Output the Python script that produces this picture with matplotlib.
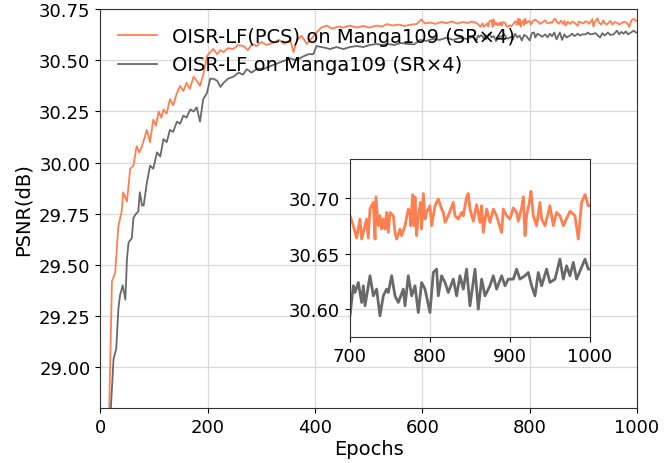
import numpy as np
import matplotlib
matplotlib.use("Agg")
import matplotlib.pyplot as plt

# PSNR curves (epochs 0-700 coarse, 700-1000 finer)
pcs_epochs = [10, 17, 22, 28, 34, 40, 43, 50, 56, 62, 68, 73, 78, 87, 93, 99, 104, 109, 114, 118,
              124, 130, 136, 143, 149, 155, 161, 167, 174, 180, 186, 192, 199, 205, 211, 218, 224, 230,
              238, 248, 257, 267, 275, 283, 292, 300, 310, 323, 333, 343, 354, 360, 367, 375, 385, 395,
              403, 412, 422, 432, 443, 453, 465, 478, 490, 502, 515, 525, 534, 545, 556, 567, 578, 590,
              598, 605, 615, 625, 635, 645, 655, 665, 675, 685, 692,
              700.0, 704.2, 708.3, 712.5, 714.6, 718.8, 720.8, 722.9, 725.0, 729.2, 731.3, 732.5, 735.4,
              737.5, 739.6, 741.7, 743.8, 745.8, 747.9, 750.0, 754.2, 756.3, 758.3, 762.5, 764.6, 768.8,
              772.9, 775.0, 775.8, 778.3, 780.0, 781.3, 783.3, 785.4, 788.3, 789.6, 791.7, 793.8, 795.8,
              800.0, 802.1, 806.3, 810.4, 814.6, 816.7, 818.8, 822.9, 829.2, 831.3, 835.4, 839.6, 841.7,
              845.8, 847.9, 850.0, 854.2, 858.3, 862.5, 864.6, 866.7, 870.8, 875.0, 879.2, 883.3, 889.6,
              891.7, 895.8, 900.0, 904.2, 908.3, 910.4, 914.6, 916.7, 918.8, 920.8, 924.2, 926.3, 929.2,
              933.3, 937.5, 939.6, 943.8, 950.0, 952.1, 954.2, 958.3, 962.5, 966.7, 975.0, 981.3, 985.4,
              989.6, 993.8, 997.9, 1000.0]
pcs_psnr = [28.20, 28.80, 29.42, 29.46, 29.69, 29.76, 29.855, 29.81, 29.97, 29.985, 30.08, 30.05, 30.08,
            30.16, 30.10, 30.21, 30.18, 30.25, 30.22, 30.26, 30.24, 30.31, 30.28, 30.34, 30.375, 30.35,
            30.39, 30.36, 30.42, 30.40, 30.375, 30.43, 30.52, 30.54, 30.555, 30.53, 30.55, 30.54, 30.56,
            30.555, 30.575, 30.57, 30.55, 30.58, 30.57, 30.59, 30.575, 30.587, 30.60, 30.58, 30.60, 30.54,
            30.60, 30.62, 30.58, 30.61, 30.636, 30.66, 30.67, 30.655, 30.665, 30.66, 30.67, 30.66, 30.668,
            30.66, 30.67, 30.665, 30.677, 30.67, 30.675, 30.668, 30.674, 30.678, 30.70, 30.68, 30.685,
            30.678, 30.688, 30.682, 30.69, 30.68, 30.687, 30.683, 30.69,
            30.684, 30.675, 30.664, 30.681, 30.663, 30.675, 30.681, 30.664, 30.690, 30.696, 30.663, 30.701,
            30.675, 30.684, 30.672, 30.681, 30.672, 30.687, 30.669, 30.687, 30.684, 30.669, 30.663, 30.672,
            30.666, 30.675, 30.690, 30.687, 30.675, 30.703, 30.675, 30.701, 30.666, 30.684, 30.696, 30.672,
            30.704, 30.681, 30.687, 30.693, 30.675, 30.693, 30.699, 30.690, 30.687, 30.678, 30.684, 30.696,
            30.684, 30.681, 30.687, 30.684, 30.701, 30.704, 30.690, 30.679, 30.694, 30.678, 30.693, 30.669,
            30.690, 30.678, 30.690, 30.684, 30.669, 30.690, 30.684, 30.681, 30.691, 30.687, 30.679, 30.691,
            30.701, 30.666, 30.684, 30.696, 30.706, 30.684, 30.675, 30.696, 30.681, 30.675, 30.693, 30.684,
            30.675, 30.687, 30.684, 30.675, 30.688, 30.684, 30.663, 30.696, 30.703, 30.693, 30.693]

base_epochs = [15, 20, 25, 30, 34, 37, 42, 47, 50, 53, 59, 62, 67, 71, 74, 78, 81, 87, 93, 99, 106, 112,
               118, 124, 130, 136, 143, 149, 155, 161, 168, 174, 180, 186, 192, 199, 205, 211, 218, 224,
               230, 238, 248, 258, 266, 273, 282, 293, 304, 315, 325, 335, 345, 354, 365, 379, 388, 397,
               403, 412, 422, 428, 440, 453, 465, 478, 490, 502, 515, 525, 535, 548, 560, 572, 585, 596,
               608, 620, 632, 645, 658, 670, 682, 694,
               700.0, 704.2, 706.3, 710.4, 714.6, 716.7, 718.8, 725.0, 729.2, 733.3, 737.5, 741.7, 745.8,
               747.9, 752.1, 756.3, 760.4, 766.7, 768.8, 772.9, 777.1, 781.3, 785.4, 789.6, 793.8, 800.0,
               804.2, 808.3, 810.4, 814.6, 818.8, 822.9, 829.2, 833.3, 837.5, 841.7, 845.8, 850.0, 856.3,
               860.4, 864.6, 868.8, 875.0, 879.2, 883.3, 889.6, 893.8, 897.9, 904.2, 908.3, 912.5, 918.8,
               922.9, 927.1, 931.3, 935.4, 939.6, 945.8, 950.0, 956.3, 962.5, 966.7, 970.8, 975.0, 979.2,
               983.3, 993.8, 997.9, 1000.0]
base_psnr = [28.50, 28.80, 29.04, 29.09, 29.285, 29.35, 29.40, 29.33, 29.53, 29.61, 29.63, 29.73, 29.75,
             29.76, 29.855, 29.79, 29.79, 29.90, 29.985, 29.97, 30.05, 30.03, 30.115, 30.10, 30.16, 30.15,
             30.20, 30.19, 30.23, 30.22, 30.26, 30.25, 30.27, 30.20, 30.31, 30.34, 30.41, 30.41, 30.40,
             30.37, 30.39, 30.41, 30.42, 30.44, 30.43, 30.457, 30.44, 30.46, 30.457, 30.47, 30.48, 30.49,
             30.50, 30.51, 30.50, 30.52, 30.53, 30.53, 30.57, 30.565, 30.56, 30.555, 30.565, 30.555, 30.565,
             30.57, 30.565, 30.575, 30.58, 30.575, 30.58, 30.575, 30.585, 30.58, 30.578, 30.60, 30.595,
             30.605, 30.60, 30.61, 30.60, 30.61, 30.605, 30.615,
             30.594, 30.621, 30.615, 30.624, 30.606, 30.621, 30.603, 30.630, 30.612, 30.618, 30.594, 30.612,
             30.618, 30.615, 30.630, 30.612, 30.606, 30.618, 30.603, 30.630, 30.612, 30.621, 30.597, 30.624,
             30.618, 30.597, 30.633, 30.636, 30.612, 30.630, 30.624, 30.615, 30.627, 30.612, 30.630, 30.618,
             30.636, 30.603, 30.636, 30.600, 30.627, 30.612, 30.621, 30.630, 30.618, 30.630, 30.621, 30.627,
             30.627, 30.636, 30.627, 30.630, 30.633, 30.621, 30.612, 30.633, 30.621, 30.636, 30.624, 30.627,
             30.645, 30.627, 30.639, 30.630, 30.642, 30.627, 30.645, 30.636, 30.636]

pcs_label = "OISR-LF(PCS) on Manga109 (SR×4)"
base_label = "OISR-LF on Manga109 (SR×4)"
pcs_color = "coral"
base_color = "dimgray"

fig = plt.figure(figsize=(6.72, 4.64), dpi=100)
ax = fig.add_axes([0.149, 0.1185, 0.799, 0.8595])

ax.plot(pcs_epochs, pcs_psnr, color=pcs_color, lw=1.3, label=pcs_label)
ax.plot(base_epochs, base_psnr, color=base_color, lw=1.3, label=base_label)
ax.set_xlim(0, 1000)
ax.set_ylim(28.8, 30.75)
ax.set_yticks([29.0, 29.25, 29.5, 29.75, 30.0, 30.25, 30.5, 30.75])
ax.set_yticklabels(["29.00", "29.25", "29.50", "29.75", "30.00", "30.25", "30.50", "30.75"])
ax.grid(True, color="#d9d9d9", lw=0.9)
ax.tick_params(labelsize=13)
ax.set_xlabel("Epochs", fontsize=14, labelpad=2)
ax.set_ylabel("PSNR(dB)", fontsize=14)
ax.legend(loc="upper left", frameon=False, fontsize=14)
for s in ax.spines.values():
    s.set_color("#333333")

# zoomed inset for the last 300 epochs
axin = fig.add_axes([0.5208, 0.2716, 0.3571, 0.3836])
axin.plot(pcs_epochs, pcs_psnr, color=pcs_color, lw=2.0)
axin.plot(base_epochs, base_psnr, color=base_color, lw=2.0)
axin.set_xlim(700, 1000)
axin.set_ylim(30.575, 30.735)
axin.set_xticks([700, 800, 900, 1000])
axin.set_yticks([30.60, 30.65, 30.70])
axin.set_yticklabels(["30.60", "30.65", "30.70"])
axin.grid(True, color="#d9d9d9", lw=0.9)
axin.tick_params(labelsize=13)
for s in axin.spines.values():
    s.set_color("#333333")

fig.savefig("out.png", dpi=100)
